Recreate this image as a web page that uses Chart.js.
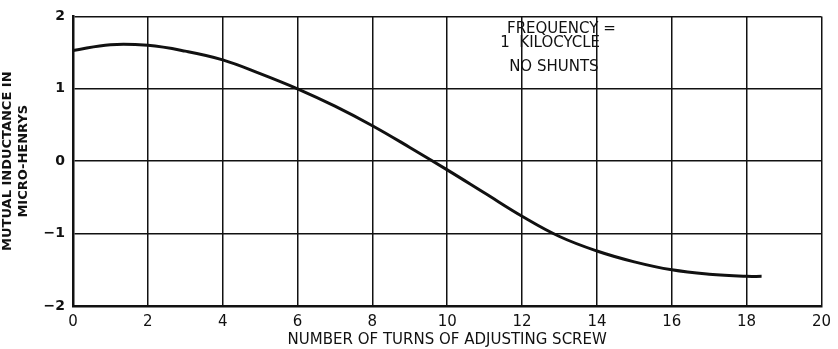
<!DOCTYPE html>
<html>
<head>
<meta charset="utf-8">
<script src="https://cdn.jsdelivr.net/npm/chart.js@4"></script>
<style>
  body { margin: 0; background: #fff; }
  #wrap { width: 838px; height: 349px; }
</style>
</head>
<body>
<div id="wrap"><canvas id="myChart"></canvas></div>
<script>
const turns = [0, 1, 2, 3, 4, 5, 6, 7, 8, 9, 10, 11, 12, 13, 14, 15, 16, 17, 18, 18.4];
const inductance = [1.53, 1.61, 1.60, 1.52, 1.40, 1.21, 1.0, 0.76, 0.49, 0.19, -0.12, -0.44, -0.76, -1.04, -1.24, -1.39, -1.50, -1.56, -1.59, -1.59];
const noteLines = ['FREQUENCY =', '1  KILOCYCLE', 'NO SHUNTS'];
const yTitle = ['MUTUAL INDUCTANCE IN', 'MICRO-HENRYS'];
const xTitle = 'NUMBER OF TURNS OF ADJUSTING SCREW';

const font = 'DejaVu Sans';
const ink = '#111';

// note in the upper box, placed by data coordinates
const notePlugin = {
    id: 'note',
    afterDraw(chart) {
        const c = chart.ctx;
        const xs = chart.scales.x, ys = chart.scales.y;
        c.save();
        c.fillStyle = ink;
        c.font = '15px "' + font + '"';
        c.textAlign = 'center';
        c.textBaseline = 'middle';
        c.fillText(noteLines[0], xs.getPixelForValue(13.05), ys.getPixelForValue(1.83));
        c.fillText(noteLines[1], xs.getPixelForValue(12.75), ys.getPixelForValue(1.63));
        c.fillText(noteLines[2], xs.getPixelForValue(12.85), ys.getPixelForValue(1.30));
        c.restore();
    }
};

new Chart(document.getElementById('myChart'), {
    type: 'line',
    data: {
        datasets: [{
            data: turns.map((t, i) => ({ x: t, y: inductance[i] })),
            borderColor: ink,
            borderWidth: 3,
            pointRadius: 0,
            tension: 0.4,
            fill: false
        }]
    },
    options: {
        responsive: true,
        maintainAspectRatio: false,
        animation: false,
        layout: { padding: { top: 12, right: 16, left: 0, bottom: 0 } },
        plugins: {
            legend: { display: false },
            tooltip: { enabled: false }
        },
        scales: {
            x: {
                type: 'linear',
                min: 0, max: 20,
                ticks: { stepSize: 2, color: ink, font: { family: font, size: 15 }, padding: 7 },
                grid: { color: ink, lineWidth: 1.5, drawTicks: false },
                border: { color: ink, width: 2.5 },
                title: { display: true, text: xTitle, color: ink, font: { family: font, size: 15 }, padding: 0 },
                afterFit(scale) { scale.height = 43; }
            },
            y: {
                min: -2, max: 2,
                ticks: {
                    stepSize: 1, color: ink, font: { family: font, size: 14, weight: 'bold' }, padding: 8,
                    callback: v => (v < 0 ? '\u2212' + Math.abs(v) : String(v))
                },
                grid: { color: ink, lineWidth: 1.5, drawTicks: false },
                border: { color: ink, width: 2.5 },
                title: { display: true, text: yTitle, color: ink, font: { family: font, size: 13, weight: 'bold' }, padding: 0 },
                afterFit(scale) { scale.width = 73; }
            }
        }
    },
    plugins: [notePlugin]
});
</script>
</body>
</html>
